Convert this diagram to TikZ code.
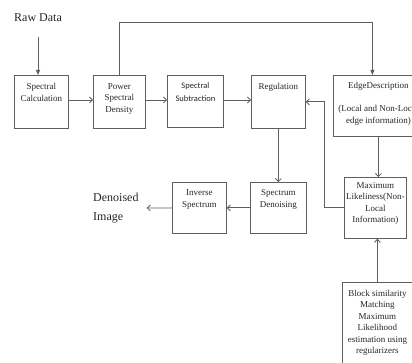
\documentclass[tikz,border=0pt]{standalone}
\usepackage{fontspec}
\setmainfont{Liberation Serif}
\newfontfamily\calfont{Carlito}
\usetikzlibrary{arrows.meta, positioning, calc}
\definecolor{lineGray}{HTML}{5E5E5E}
\definecolor{textDark}{HTML}{262626}
\newcommand{\blkbody}[4][8pt]{\parbox[t][#3][t]{#2}{\centering\vspace*{#1}#4}}
\tikzset{
  arrO/.style={-{Straight Barb[length=3pt,width=6pt]}, lineGray, line width=0.8pt},
  arrF/.style={-{Triangle[length=5pt,width=4pt]}, lineGray, line width=0.8pt},
  blk/.style={draw=lineGray, line width=0.8pt, inner sep=0pt, anchor=north west,
              text=textDark, font=\fontsize{9}{11.5}\selectfont},
  bigtxt/.style={inner sep=0pt, text=textDark, font=\fontsize{12}{19}\selectfont},
}
\begin{document}
\begin{tikzpicture}[x=1pt, y=-1pt]
    \useasboundingbox (0,0) rectangle (412,363);
    \clip (0,0) rectangle (412,363);
    % top row
    \node[blk] (calc) at (14,75) {\blkbody{54pt}{53pt}{Spectral\\Calculation}};
    \node[blk] (psd) at (93,75) {\blkbody{52pt}{53pt}{Power\\Spectral\\Density}};
    \node[blk] (sub) at (167,75)
      {\blkbody[7pt]{56pt}{52pt}{\calfont\fontsize{8.5}{13}\selectfont Spectral\\Subtraction}};
    \node[blk] (reg) at (251,75) {\blkbody[7.5pt]{54pt}{53pt}{Regulation}};
    \node[blk] (edge) at (333,75)
      {\blkbody[6.5pt]{90pt}{61pt}{EdgeDescription\\[12pt](Local and Non-Local\\edge information)}};
    % lower rows
    \node[blk] (denoise) at (250,182) {\blkbody[7.5pt]{56pt}{51pt}{Spectrum\\Denoising}};
    \node[blk] (inv) at (172,182) {\blkbody[7.5pt]{54pt}{51pt}{Inverse\\Spectrum}};
    \node[blk] (ml) at (344,177)
      {\blkbody[5pt]{62pt}{61pt}{Maximum\\Likeliness(Non-\\Local\\Information)}};
    \node[blk] (block) at (342,282)
      {\blkbody[7.5pt]{70pt}{90pt}{Block similarity\\Matching\\Maximum\\Likelihood\\estimation using\\regularizers}};
    % free labels
    \node[bigtxt] (raw) at (38,18) {Raw Data};
    \node[bigtxt, anchor=west, align=left] (img) at (93,208) {Denoised\\Image};
    % connectors
    \draw[arrF, shorten <=15pt] (raw.south) -- (raw.south |- calc.north);
    \draw[arrO] (calc.east |- 0,100) -- (psd.west |- 0,100);
    \draw[arrO] (psd.east |- 0,100) -- (sub.west |- 0,100);
    \draw[arrO] (sub.east |- 0,100) -- (reg.west |- 0,100);
    \draw[arrF] (psd.north) -- ++(0,-53) -| ([xshift=-6pt]edge.north);
    \draw[arrO] (reg.south) -- (denoise.north);
    \draw[arrO] (ml.west) -- ++(-20,0) |- (reg.east);
    \draw[arrO] (edge.south) -- (edge.south |- ml.north);
    \draw[arrO] (block.north) -- (block.north |- ml.south);
    \draw[arrO] (denoise.west) -- (inv.east);
    \draw[arrO, shorten >=8pt] (inv.west) -- (img.east);
\end{tikzpicture}
\end{document}
